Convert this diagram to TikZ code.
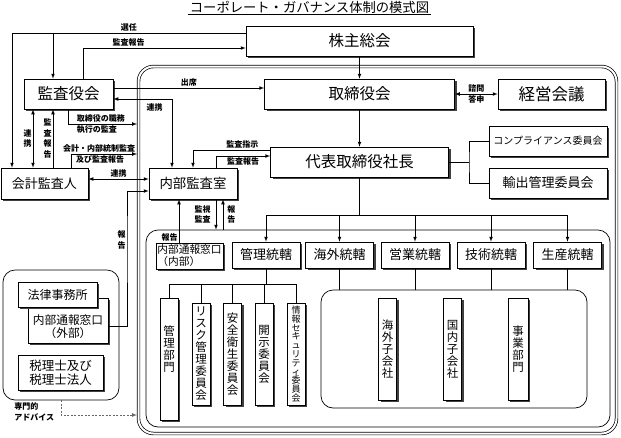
\documentclass[tikz,border=0pt]{standalone}
\usepackage{fontspec}
\setmainfont{Noto Sans CJK JP}
\usetikzlibrary{arrows,shadows}

\tikzset{
  box/.style={draw, fill=white, inner sep=0pt, align=center,
    drop shadow={shadow xshift=2pt, shadow yshift=-2pt, fill=black!75, opacity=1}},
  bigbox/.style={box, minimum height=30pt, font=\fontsize{15.5}{17}\selectfont},
  midbox/.style={box, minimum width=68pt, minimum height=26pt, font=\fontsize{13}{15}\selectfont},
  vbox/.style={box, minimum width=18pt, minimum height=102pt, font=\fontsize{11.5}{12}\selectfont},
  lbl/.style={font=\fontsize{8}{10.5}\selectfont\bfseries, inner sep=1pt},
  grp/.style={draw, rounded corners=12pt, inner sep=0pt}
}

\begin{document}
\begin{tikzpicture}[x=1pt, y=-1pt, line width=0.7pt, >=latex]
  \useasboundingbox (0,0) rectangle (621,437);

  \node[inner xsep=2pt, inner ysep=1pt, font=\fontsize{13.3}{15}\selectfont] (title) at (309.5,7) {コーポレート・ガバナンス体制の模式図};
  \draw (title.south west) -- (title.south east);

  \node[grp, double, double distance=2pt, rounded corners=15pt, minimum width=478pt, minimum height=367pt] (outer) at (377.5,250) {};
  \node[grp, minimum width=464pt, minimum height=197pt] (inner) at (378,328.5) {};
  \node[grp, minimum width=266pt, minimum height=118pt] (sub) at (454,349) {};
  \node[grp, minimum width=116pt, minimum height=130pt] (adv) at (61,335) {};

  \node[bigbox, minimum width=227pt] (kabunushi) at (359.5,41) {株主総会};
  \node[bigbox, minimum width=89pt] (kansayaku) at (68.5,94) {監査役会};
  \node[bigbox, minimum width=190pt] (torishimari) at (359.5,94) {取締役会};
  \node[bigbox, minimum width=107pt, font=\fontsize{16.5}{18}\selectfont] (keiei) at (551.5,94) {経営会議};
  \node[bigbox, minimum width=178pt] (shacho) at (359.5,162) {代表取締役社長};
  \node[box, minimum width=118pt, minimum height=30pt, font=\fontsize{10}{12}\selectfont] (compliance) at (548,141) {コンプライアンス委員会};
  \node[box, minimum width=118pt, minimum height=30pt, font=\fontsize{13}{15}\selectfont] (yushutsu) at (548,183) {輸出管理委員会};
  \node[box, minimum width=87pt, minimum height=31pt, font=\fontsize{13}{15}\selectfont] (kaikei) at (44.5,183.5) {会計監査人};
  \node[box, minimum width=88pt, minimum height=31pt, font=\fontsize{13.4}{15}\selectfont] (naibu) at (193,183.5) {内部監査室};
  \node[box, minimum width=67pt, minimum height=26pt, align=left, font=\fontsize{10.7}{12}\selectfont] (tsuho) at (189.5,256) {内部通報窓口\\（内部）};

  \foreach \n/\x/\t in {kanri/266/管理統轄, kaigai/339.5/海外統轄, eigyo/415/営業統轄, gijutsu/491/技術統轄, seisan/567.5/生産統轄}
    \node[midbox] (\n) at (\x,255) {\t};

  \node[vbox, minimum height=122pt] (bumon) at (169,359) {管\\理\\部\\門\rule[-21pt]{0pt}{21pt}};
  \node[vbox] (risk) at (201,354) {リ\\ス\\ク\\管\\理\\委\\員\\会};
  \node[vbox] (anzen) at (232.5,354) {安\\全\\衛\\生\\委\\員\\会};
  \node[vbox] (kaiji) at (264,354) {開\\示\\委\\員\\会};
  \node[vbox, font={\fontsize{9}{8.8}\selectfont\lineskiplimit=-3pt}] (joho) at (296,354) {情\\報\\セ\\キ\\ュ\\リ\\テ\\ィ\\委\\員\\会};
  \node[vbox] (kogai) at (387.5,349) {海\\外\\子\\会\\社};
  \node[vbox] (kokunai) at (452.5,349) {国\\内\\子\\会\\社};
  \node[vbox, minimum width=20pt] (jigyo) at (518,349) {事\\業\\部\\門};

  \node[box, minimum width=80pt, minimum height=45pt, font=\fontsize{11.7}{13.5}\selectfont] (gaibu) at (68,320.5) {\rule{0pt}{22pt}内部通報窓口\\（外部）};
  \node[box, minimum width=79pt, minimum height=25pt, font=\fontsize{12}{14}\selectfont] (horitsu) at (57.5,294.5) {法律事務所};
  \node[box, minimum width=85pt, minimum height=35pt, font=\fontsize{12.5}{14.5}\selectfont] (zeirishi) at (60.5,372.5) {税理士及び\\税理士法人};
  \node[lbl, align=left, anchor=west] (senmon) at (13,412) {専門的\\アドバイス};

  \coordinate (c12) at (12,0);
  \coordinate (c33) at (33,0);
  \coordinate (c53) at (53,0);
  \coordinate (c179) at (179,0);
  \coordinate (c216) at (216,0);
  \coordinate (c223) at (223,0);
  \coordinate (sel) at ([yshift=8pt]kabunushi.west);
  \coordinate (k1) at (137,124);
  \coordinate (k2) at (137,154);
  \coordinate (k3) at (137,415);
  \coordinate (c127) at (127,240);
  \coordinate (cbr) at (469,162);
  \coordinate (bus) at (359.5,215);
  \coordinate (kb) at (266,284);

  \draw[->] (kabunushi.south) -- (kabunushi.south |- torishimari.north);
  \draw[->] (torishimari.south) -- (torishimari.south |- shacho.north);
  \draw[<->] (torishimari) -- (keiei) node[midway, above, lbl]{諮問} node[midway, below, lbl]{答申};
  \draw (shacho.east) -- (cbr);
  \draw (compliance.west) -| (cbr) |- (yushutsu.west);
  \draw (shacho.south) -- (bus);
  \draw (kanri.north |- bus) -- (seisan.north |- bus);
  \foreach \n in {kanri,kaigai,eigyo,gijutsu,seisan}
    \draw[->] (\n.north |- bus) -- (\n.north);

  \draw[->] (sel) -| (c12 |- kaikei.north) node[pos=0.25, above, lbl]{選任};
  \draw[->] (c53 |- sel) -- (c53 |- kansayaku.north);
  \draw[->] ([xshift=14.5pt]kansayaku.north) |- ([yshift=-7pt]kabunushi.west) node[pos=0.64, above, lbl]{監査報告};
  \draw[->] ([yshift=6pt]kansayaku.east) -- ([yshift=6pt]torishimari.west) node[midway, above, lbl]{出席};
  \draw[<->] ([yshift=-5pt]kansayaku.east) -| ([xshift=-21pt]naibu.north) node[pos=0.5, anchor=north east, lbl, xshift=-8pt, yshift=-3pt]{連携};
  \draw[->] (kansayaku.south) |- (k1) node[pos=0.5, anchor=south west, lbl, xshift=7pt]{取締役の職務} node[pos=0.5, anchor=north west, lbl, xshift=7pt]{執行の監査};
  \draw[->] ([xshift=26.5pt]kaikei.north) |- (k2) node[pos=0.75, above, lbl, xshift=-5pt]{会計・内部統制監査} node[pos=0.75, below, lbl, xshift=-4pt]{及び監査報告};
  \draw[<->] (c33 |- kansayaku.south) -- (c33 |- kaikei.north) node[midway, left, lbl, align=center]{連\\携};
  \draw[->] (c53 |- kaikei.north) -- (c53 |- kansayaku.south) node[midway, left, lbl, align=center]{監\\査\\報\\告};
  \draw[<->] ([yshift=4.5pt]kaikei.east) -- ([yshift=4.5pt]naibu.west) node[midway, above, lbl]{連携};
  \draw[->] ([yshift=-5.5pt]gaibu.east) -| (c127) node[left, lbl, align=center]{報\\告} |- ([yshift=-7.5pt]naibu.west);

  \draw[->] ([yshift=12pt]shacho.west) -| (naibu.north) node[pos=0.18, above, lbl]{監査指示};
  \draw[->] (c216 |- naibu.north) |- ([yshift=6pt]shacho.west) node[pos=0.75, below, lbl]{監査報告};
  \draw[->] (c179 |- tsuho.north) -- (c179 |- naibu.south) node[at start, above left, lbl]{報告};
  \draw[->] (c216 |- naibu.south) -- (c216 |- inner.north) node[midway, left, lbl, align=center, xshift=-4pt]{監視\\監査};
  \draw[->] (c223 |- inner.north) -- (c223 |- naibu.south) node[midway, right, lbl, align=center, xshift=3pt]{報\\告};

  \draw (kanri.south) -- (kanri.south |- kb);
  \draw (bumon.north |- kb) -- (joho.north |- kb);
  \foreach \n in {bumon,risk,anzen,kaiji,joho}
    \draw (\n.north |- kb) -- (\n.north);
  \foreach \n in {kaigai,eigyo,gijutsu,seisan}
    \draw (\n.south) -- (\n.south |- sub.north);

  \draw[->, black!60, dash pattern=on 2pt off 1.5pt] (adv.south) |- (k3);
\end{tikzpicture}
\end{document}
